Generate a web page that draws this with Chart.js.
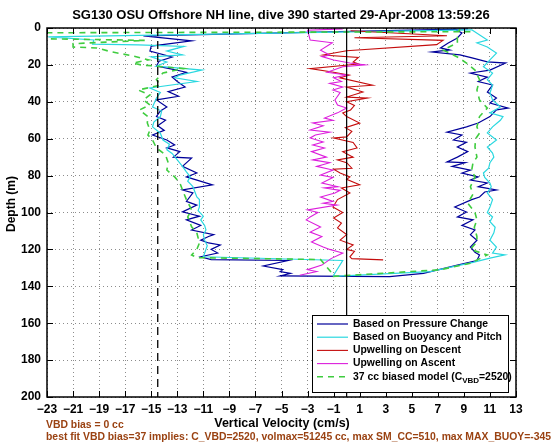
<!DOCTYPE html>
<html>
<head>
<meta charset="utf-8">
<script src="https://cdn.jsdelivr.net/npm/chart.js@4.4.0/dist/chart.umd.min.js"></script>
<style>
  body { margin: 0; background: #fff; }
</style>
</head>
<body>
<canvas id="myChart" width="560" height="442"></canvas>
<script>
  const xTicks = [-23, -21, -19, -17, -15, -13, -11, -9, -7, -5, -3, -1, 1, 3, 5, 7, 9, 11, 13];
  const yTicks = [0, 20, 40, 60, 80, 100, 120, 140, 160, 180, 200];

  // Based on Pressure Change (descent, then ascent)
  const pressureDepth = [
    0.5, 4.3, 7, 9.8, 12.5, 15.7, 18, 20.6, 22.2, 24,
    26.5, 29, 32, 34.5, 37, 39, 42.8, 45, 48, 50,
    53, 55.5, 58, 60.7, 63.4, 65, 67, 70, 70.5, 75,
    78.6, 80.7, 85, 87.8, 89.4, 94, 96, 99.7, 102, 104,
    107, 109.5, 112, 113, 115, 116.5, 117.6, 120, 122, 124,
    125.5, 126, 129, 131, 132, 133, 134.4, 134.8, 133, 128.5,
    126, 123, 121.5, 118.7, 115, 112, 109.5, 107, 104, 102.4,
    99.7, 97, 93, 91.6, 88.9, 87.8, 86, 84, 82.4, 80.7,
    78.6, 77, 75, 73, 72.6, 70, 67, 64.5, 62, 60.7,
    58, 56.4, 53.6, 51.5, 48, 44.4, 43.4, 40.7, 37.9, 34.7,
    30.9, 29, 26.6, 24.4, 22.8, 19, 18.4, 16.3, 14.6, 13,
    11.9, 10.8, 8.1, 5.4, 2.7, 0.3
  ];
  const pressureVel = [
    9.3, -15.6, -11.9, -15.0, -15.1, -13.4, -14.4, -14.6, -13.5, -12.3,
    -13.4, -13.0, -12.4, -13.7, -12.9, -14.6, -13.8, -14.3, -14.6, -13.9,
    -14.5, -14.0, -14.9, -13.8, -13.2, -13.8, -12.8, -13.3, -11.9, -12.6,
    -11.5, -12.3, -10.3, -12.6, -11.8, -12.3, -11.5, -12.6, -11.3, -12.3,
    -11.2, -11.9, -10.2, -10.6, -11.2, -10.6, -9.7, -10.4, -9.9, -11.2,
    -10.4, -4.5, -6.4, -4.9, -5.1, -4.3, -5.1, 3.3, 5.9, 8.5,
    10.0, 10.2, 9.85, 9.5, 10.0, 9.5, 9.85, 8.85, 9.7, 8.5,
    9.2, 8.3, 9.6, 10.2, 10.6, 11.5, 10.1, 10.8, 9.5, 10.1,
    8.85, 9.5, 8.1, 9.1, 7.7, 8.5, 9.3, 8.5, 9.2, 8.2,
    8.85, 7.7, 9.2, 10.1, 11.0, 11.5, 12.4, 11.0, 11.5, 10.8,
    11.2, 10.1, 10.8, 9.5, 11.0, 12.2, 10.8, 9.7, 8.7, 6.55,
    7.9, 7.2, 7.8, 8.5, 8.85, 8.2
  ];

  // Based on Buoyancy and Pitch
  const buoyDepth = [
    1, 4.8, 6.5, 8.7, 9.2, 10, 12.5, 14.6, 15.7, 18.4,
    20.6, 22.8, 25.5, 27, 29, 32.5, 35, 38, 42.8, 45,
    48, 51, 53.6, 57, 60.7, 63, 66, 68, 71.5, 75,
    78, 80.7, 83, 86, 91.6, 93, 97, 99, 102, 104,
    107, 109.5, 112, 115, 118, 120, 124, 126, 134, 134.6,
    132, 127, 124.7, 123, 122, 118.7, 115, 111, 108, 105,
    102.4, 100, 97, 93, 89.4, 86, 84, 81, 78.6, 76,
    73, 70, 67.8, 64.5, 60.7, 56.9, 53.6, 50, 48, 46,
    42.8, 39, 35.2, 31, 28, 24.4, 21, 17.3, 13.6, 10.3,
    8.1, 6.5, 1
  ];
  const buoyVel = [
    9.6, -22.9, -19.4, -19.5, -16, -12.5, -13.8, -12.6, -15.0, -13.8,
    -14.6, -11.1, -12.8, -13.2, -11.5, -15.1, -14.3, -14.6, -14.9, -14.2,
    -14.3, -14.8, -14.9, -14.3, -14.1, -13.6, -13.8, -13.4, -13.0, -12.6,
    -12.3, -12.0, -12.2, -11.8, -11.5, -11.3, -11.3, -11.4, -11.0, -11.2,
    -10.9, -10.8, -11.0, -10.9, -10.7, -10.8, -11.0, -0.3, -1.0, -1.0,
    6.4, 9.7, 11.0, 12.15, 11.2, 11.5, 11.0, 11.3, 11.4, 11.0,
    11.2, 10.8, 11.0, 11.2, 10.8, 11.1, 11.0, 10.6, 10.5, 10.9,
    11.0, 11.3, 11.2, 10.8, 11.5, 10.8, 11.2, 11.8, 12.0, 11.0,
    11.8, 11.2, 11.0, 11.2, 10.8, 11.2, 10.5, 11.0, 11.5, 10.8,
    10.0, 10.8, 9.6
  ];

  // Upwelling on Descent
  const upDescDepth = [
    1.5, 4.2, 5.3, 6.7, 9, 12.3, 14.6, 16, 18.5, 19.5,
    22, 24, 25.5, 27, 31, 32, 34.7, 37.4, 38, 40,
    42, 44.4, 46, 48, 51.5, 54, 56, 59, 59.6, 62,
    65, 67, 70, 71.5, 73, 76, 76.5, 78.6, 80.7, 82,
    85, 86.7, 89.4, 93, 97, 100, 103, 105.7, 108.4, 112,
    115, 117.6, 120, 121, 124, 125, 125.7
  ];
  const upDescVel = [
    0.3, 7.7, 0.6, 7.4, 6.9, 0.0, -1.8, 0.9, 0.5, 0.9,
    -2.8, -1.0, 0.2, -0.5, 2.0, 0.0, 1.25, 0.0, 1.6, 0.0,
    0.6, 0.3, -0.3, 0.0, 1.0, -0.1, 0.4, 0.0, -1.0, 0.5,
    0.8, -0.3, 0.5, -0.7, 0.0, 0.4, -1.0, -0.5, 0.25, 0.0,
    1.0, -0.4, 0.25, -0.7, -1.05, -0.3, -1.0, -0.4, -0.7, 0.0,
    -0.5, 0.5, 0.0, 0.6, 0.25, 0.4, 2.8
  ];

  // Upwelling on Ascent
  const upAscDepth = [
    0.5, 1.2, 6.5, 8, 12, 14.6, 15.5, 17.3, 19, 20,
    21, 24, 25.5, 27, 29, 30, 32, 33.6, 35, 39,
    41.7, 43.4, 46, 48.8, 50, 51.5, 53, 55.3, 56.5, 58,
    59.6, 61.8, 63.4, 65, 67, 70, 71.5, 73, 75, 77,
    79.7, 81, 84, 86, 86.7, 88, 89.4, 91.6, 94, 95,
    96, 98.6, 100, 102.4, 104, 107.8, 110.6, 113, 116, 118.7,
    120, 122, 125, 128.5, 131, 132, 134
  ];
  const upAscVel = [
    -0.3, -3.0, -2.8, -1.1, -2.0, -1.3, -1.9, -1.0, 0.25, 1.4,
    -0.3, -1.5, 0.0, -1.0, -0.4, -1.3, -0.3, -1.05, -0.5, -0.9,
    -0.7, 0.0, -0.7, -1.7, -1.05, -2.6, -1.8, -2.8, -1.3, -2.4,
    -2.8, -1.8, -2.6, -1.7, -2.7, -1.55, -2.6, -1.3, -2.3, -1.05,
    -2.0, -1.05, -1.9, -0.67, -1.7, -0.5, -0.9, -2.0, -1.05, -1.8,
    -0.75, -3.0, -2.2, -2.8, -3.1, -2.0, -2.8, -1.9, -2.7, -1.8,
    -1.3, -0.3, -1.2, -1.9, -3.0, -2.3, -3.6
  ];

  // 37 cc biased model
  const modelDepth = [
    2.0, 2.6, 5.5, 6.7, 8.5, 10.3, 10.8, 13, 15, 17.3,
    19, 20, 21, 22, 24.4, 28, 31, 33.6, 36.3, 39,
    41.7, 44.4, 48, 51.5, 55.3, 58, 60.7, 65, 68.8, 73,
    77, 80.7, 84, 87.8, 93, 98.6, 102.4, 104, 107.8, 111,
    116.5, 120, 123, 124.5, 125.5, 134, 134.6, 131, 127.5, 123,
    120, 116, 113, 108, 104, 100, 95, 90, 86, 80.7,
    77, 73, 70, 64.5, 60, 57, 53.6, 48, 43.4, 39,
    33.6, 28, 22.8, 19, 15.7, 11.9, 8.1, 3.8, 0.5
  ];
  const modelVel = [
    9.5, -24, -26, -15.5, -21, -21, -19.2, -18, -16.5, -15.2,
    -16.4, -15.8, -14.1, -12.5, -14.1, -14.6, -14.3, -16.0, -15.1, -15.6,
    -15.1, -15.9, -15.25, -15.3, -15.1, -15.25, -14.9, -14.6, -13.9, -13.7,
    -13.8, -13.2, -12.8, -12.6, -12.3, -11.9, -12.2, -12.1, -11.9, -11.5,
    -11.3, -11.5, -11.9, -11.5, -2.0, -1.0, -1.0, 7.2, 9.5, 10.8,
    9.5, 10.0, 10.0, 9.8, 10.0, 9.85, 9.3, 9.7, 9.5, 9.85,
    9.6, 9.7, 10.0, 9.85, 9.9, 10.2, 10.0, 10.2, 10.8, 10.2,
    10.0, 10.2, 9.85, 9.2, 8.5, 7.4, 8.5, 8.5, 8.7
  ];

  // reference lines (velocity values) and depth extent
  const refDashedVel = -14.5;
  const refSolidVel = 0;
  const depthRange = [0, 200];

  const FONT = "'Liberation Sans', Arial, Helvetica, sans-serif";
  const BROWN = '#9a4212';

  function pts(depth, vel) {
    return depth.map((d, i) => ({ x: vel[i], y: d }));
  }
  function vline(v) {
    return depthRange.map(d => ({ x: v, y: d }));
  }
  function fmt(v) {
    return String(v).replace('-', '\u2212');
  }

  const extras = {
    id: 'extras',
    afterDraw(chart) {
      const { ctx, chartArea: a, scales: { x, y } } = chart;
      ctx.save();
      ctx.setLineDash([]);
      ctx.strokeStyle = '#000';

      // inward tick marks
      ctx.lineWidth = 1;
      ctx.beginPath();
      xTicks.forEach(v => {
        const px = Math.round(x.getPixelForValue(v)) + 0.5;
        ctx.moveTo(px, a.bottom); ctx.lineTo(px, a.bottom - 6);
        ctx.moveTo(px, a.top); ctx.lineTo(px, a.top + 6);
      });
      yTicks.forEach(v => {
        const py = Math.round(y.getPixelForValue(v)) + 0.5;
        ctx.moveTo(a.left, py); ctx.lineTo(a.left + 6, py);
        ctx.moveTo(a.right, py); ctx.lineTo(a.right - 6, py);
      });
      ctx.stroke();

      // legend box
      const lx = 312.5, ly = 315.5, lw = 196, lh = 77;
      ctx.fillStyle = '#fff';
      ctx.fillRect(lx, ly, lw, lh);
      ctx.lineWidth = 1;
      ctx.strokeRect(lx, ly, lw, lh);
      chart.data.datasets.slice(0, 5).forEach((ds, i) => {
        const cy = 324 + i * 13.2;
        ctx.save();
        ctx.strokeStyle = ds.borderColor;
        ctx.lineWidth = ds.borderWidth;
        ctx.setLineDash(ds.borderDash || []);
        ctx.beginPath();
        ctx.moveTo(317, cy); ctx.lineTo(348, cy);
        ctx.stroke();
        ctx.restore();
        ctx.fillStyle = '#000';
        ctx.font = 'bold 10.4px ' + FONT;
        ctx.textBaseline = 'middle';
        ctx.textAlign = 'left';
        const parts = ds.label.split('_VBD');
        ctx.fillText(parts[0], 353, cy);
        if (parts.length > 1) {
          let tx = 353 + ctx.measureText(parts[0]).width;
          ctx.font = 'bold 8px ' + FONT;
          ctx.fillText('VBD', tx, cy + 4);
          tx += ctx.measureText('VBD').width;
          ctx.font = 'bold 10.4px ' + FONT;
          ctx.fillText(parts[1], tx, cy);
        }
      });

      // frame
      ctx.lineWidth = 1.5;
      ctx.strokeRect(a.left, a.top, a.right - a.left, a.bottom - a.top);

      // title and axis titles
      ctx.fillStyle = '#000';
      ctx.textBaseline = 'middle';
      ctx.textAlign = 'center';
      ctx.font = 'bold 13px ' + FONT;
      ctx.fillText('SG130 OSU Offshore NH line, dive 390 started 29-Apr-2008 13:59:26', 281, 15);
      ctx.font = 'bold 12.5px ' + FONT;
      ctx.fillText('Vertical Velocity (cm/s)', 282, 424);
      ctx.save();
      ctx.translate(12, 204);
      ctx.rotate(-Math.PI / 2);
      ctx.font = 'bold 12px ' + FONT;
      ctx.fillText('Depth (m)', 0, 0);
      ctx.restore();

      // notes
      ctx.fillStyle = BROWN;
      ctx.textAlign = 'left';
      ctx.font = 'bold 10.4px ' + FONT;
      ctx.fillText('VBD bias = 0 cc', 46, 425);
      ctx.fillText('best fit VBD bias=37 implies: C_VBD=2520, volmax=51245 cc, max SM_CC=510, max MAX_BUOY=-345', 46, 437);
      ctx.restore();
    }
  };

  const axisFont = { family: FONT, size: 12, weight: 'bold' };

  new Chart(document.getElementById('myChart'), {
    type: 'scatter',
    data: {
      datasets: [
        { label: 'Based on Pressure Change', data: pts(pressureDepth, pressureVel), showLine: true, borderColor: '#00009a', borderWidth: 1.2, order: 5 },
        { label: 'Based on Buoyancy and Pitch', data: pts(buoyDepth, buoyVel), showLine: true, borderColor: '#2ad8e0', borderWidth: 1.2, order: 4 },
        { label: 'Upwelling on Descent', data: pts(upDescDepth, upDescVel), showLine: true, borderColor: '#c40c0c', borderWidth: 1.1, order: 3 },
        { label: 'Upwelling on Ascent', data: pts(upAscDepth, upAscVel), showLine: true, borderColor: '#dc1edc', borderWidth: 1.1, order: 2 },
        { label: '37 cc biased model (C_VBD=2520)', data: pts(modelDepth, modelVel), showLine: true, borderColor: '#3fcc3f', borderWidth: 1.6, borderDash: [6, 5], order: 1 },
        { label: 'dashed', data: vline(refDashedVel), showLine: true, borderColor: '#000', borderWidth: 1.3, borderDash: [8, 5], order: 0 },
        { label: 'solid', data: vline(refSolidVel), showLine: true, borderColor: '#000', borderWidth: 1.2, order: 0 }
      ]
    },
    options: {
      responsive: false,
      animation: false,
      elements: { point: { radius: 0, hoverRadius: 0 }, line: { tension: 0, fill: false } },
      layout: { padding: { top: 28, right: 44, left: 0, bottom: 0 } },
      plugins: { legend: { display: false }, tooltip: { enabled: false } },
      scales: {
        x: {
          type: 'linear', min: -23, max: 13,
          afterFit: s => { s.height = 45; },
          afterBuildTicks: s => { s.ticks = xTicks.map(v => ({ value: v })); },
          ticks: { color: '#000', font: axisFont, padding: 5, maxRotation: 0, autoSkip: false, callback: v => fmt(v) },
          grid: { color: 'rgba(0,0,0,0.45)', lineWidth: 1, drawTicks: false },
          border: { display: false, dash: [1, 3] }
        },
        y: {
          type: 'linear', min: 0, max: 200, reverse: true,
          afterFit: s => { s.width = 47; },
          afterBuildTicks: s => { s.ticks = yTicks.map(v => ({ value: v })); },
          ticks: { color: '#000', font: axisFont, padding: 6, autoSkip: false, callback: v => fmt(v) },
          grid: { color: 'rgba(0,0,0,0.45)', lineWidth: 1, drawTicks: false },
          border: { display: false, dash: [1, 3] }
        }
      }
    },
    plugins: [extras]
  });
</script>
</body>
</html>
